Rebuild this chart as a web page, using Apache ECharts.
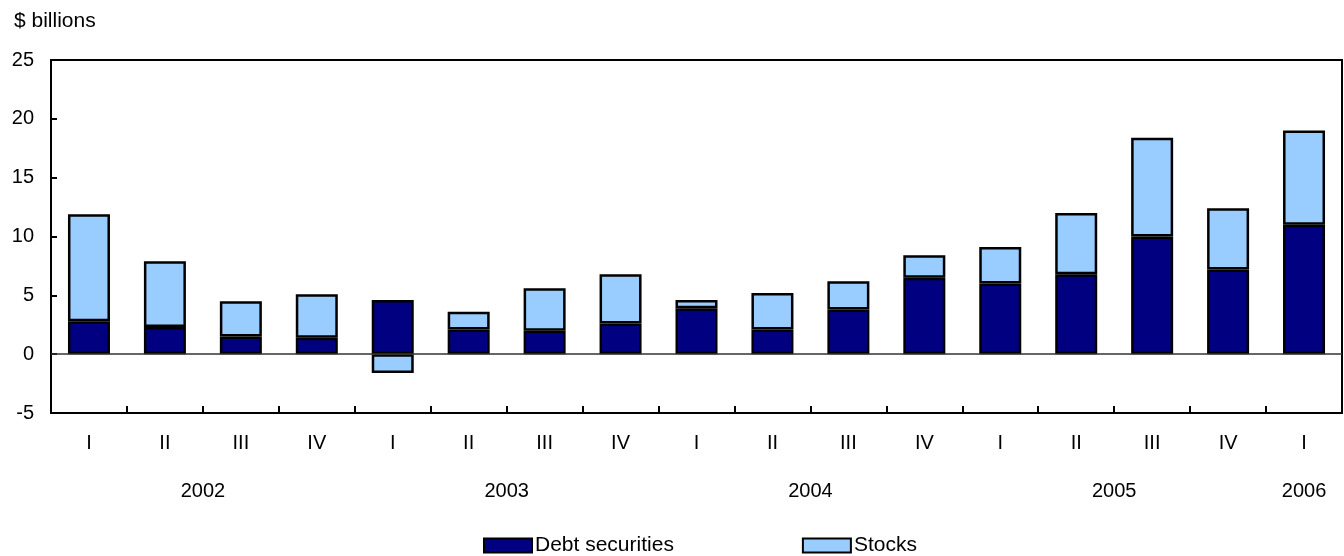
<!DOCTYPE html>
<html>
<head>
<meta charset="utf-8">
<script src="https://cdn.jsdelivr.net/npm/echarts@6/dist/echarts.min.js"></script>
<style>
  html, body { margin: 0; padding: 0; background: #fff; }
  #chart { width: 1344px; height: 556px; }
</style>
</head>
<body>
<div id="chart"></div>
<script>
// quarters and the year each one belongs to
const quarters = ['I', 'II', 'III', 'IV', 'I', 'II', 'III', 'IV', 'I', 'II', 'III', 'IV', 'I', 'II', 'III', 'IV', 'I']
const quarterYears = ['2002', '2002', '2002', '2002', '2003', '2003', '2003', '2003',
  '2004', '2004', '2004', '2004', '2005', '2005', '2005', '2005', '2006']

// $ billions
const debtSecurities = [2.8, 2.3, 1.5, 1.4, 4.6, 2.1, 2.0, 2.6, 3.9, 2.1, 3.8, 6.5, 6.0, 6.8, 10.0, 7.2, 11.0]
const stocks = [9.1, 5.6, 3.0, 3.7, -1.6, 1.5, 3.6, 4.2, 0.7, 3.1, 2.4, 1.9, 3.1, 5.2, 8.4, 5.2, 8.0]

const yTicks = { min: -5, max: 25, interval: 5 }

const DEBT_COLOR = '#000080'
const STOCK_COLOR = '#99ccff'
const FONT = '"Liberation Sans", Arial, Helvetica, sans-serif'
const AXIS_FONT = 20
const TEXT_FONT = 21

// centre of each year group, in category units
const yearCentres = {}
quarterYears.forEach((y, i) => {
  if (!yearCentres[y]) yearCentres[y] = { first: i, last: i }
  yearCentres[y].last = i
})
const yearPositions = Object.keys(yearCentres).map(y => (yearCentres[y].first + yearCentres[y].last + 1) / 2)
const yearByPos = {}
Object.keys(yearCentres).forEach((y, i) => { yearByPos[yearPositions[i]] = y })

const chart = echarts.init(document.getElementById('chart'))

const option = {
  backgroundColor: '#fff',
  animation: false,
  textStyle: { fontFamily: FONT },
  title: {
    text: '$ billions',
    left: 9,
    top: 6,
    textStyle: { fontSize: TEXT_FONT, fontWeight: 'normal', color: '#000', fontFamily: FONT }
  },
  grid: {
    left: 51,
    right: 2,
    top: 60,
    bottom: 143,
    show: true,
    borderColor: '#000',
    borderWidth: 2,
    backgroundColor: 'transparent'
  },
  legend: {
    left: 478,
    top: 530,
    icon: 'rect',
    itemWidth: 48,
    itemHeight: 14,
    itemGap: 128,
    textStyle: { fontSize: TEXT_FONT, color: '#000', fontFamily: FONT, padding: [0, 0, 0, -2] },
    data: ['Debt securities', 'Stocks']
  },
  xAxis: [
    {
      type: 'category',
      data: quarters,
      position: 'bottom',
      axisLine: { onZero: false, lineStyle: { color: '#000', width: 2 } },
      axisTick: { show: true, inside: true, length: 7, lineStyle: { color: '#000', width: 2 } },
      axisLabel: { color: '#000', fontSize: AXIS_FONT, margin: 20, fontFamily: FONT },
      splitLine: { show: false }
    },
    {
      type: 'value',
      min: 0,
      max: quarters.length,
      position: 'bottom',
      axisLine: { show: false },
      axisTick: { show: false },
      splitLine: { show: false },
      axisLabel: {
        customValues: yearPositions,
        formatter: v => yearByPos[v] || '',
        color: '#000',
        fontSize: AXIS_FONT,
        margin: 68,
        fontFamily: FONT
      }
    }
  ],
  yAxis: {
    type: 'value',
    min: yTicks.min,
    max: yTicks.max,
    interval: yTicks.interval,
    axisLine: { show: true, lineStyle: { color: '#000', width: 2 } },
    axisTick: { show: true, inside: true, length: 6, lineStyle: { color: '#000', width: 2 } },
    axisLabel: { color: '#000', fontSize: AXIS_FONT, margin: 17, fontFamily: FONT },
    splitLine: { show: false }
  },
  series: [
    {
      name: 'Debt securities',
      type: 'bar',
      stack: 'total',
      barWidth: 42,
      data: debtSecurities,
      itemStyle: { color: DEBT_COLOR, borderColor: '#000', borderWidth: 2.5 },
      markLine: {
        silent: true,
        symbol: 'none',
        label: { show: false },
        lineStyle: { color: '#333', width: 1.5, type: 'solid' },
        data: [{ yAxis: 0 }]
      }
    },
    {
      name: 'Stocks',
      type: 'bar',
      stack: 'total',
      barWidth: 42,
      data: stocks,
      itemStyle: { color: STOCK_COLOR, borderColor: '#000', borderWidth: 2.5 }
    }
  ]
}

chart.setOption(option)
window.addEventListener('resize', () => chart.resize())
</script>
</body>
</html>
